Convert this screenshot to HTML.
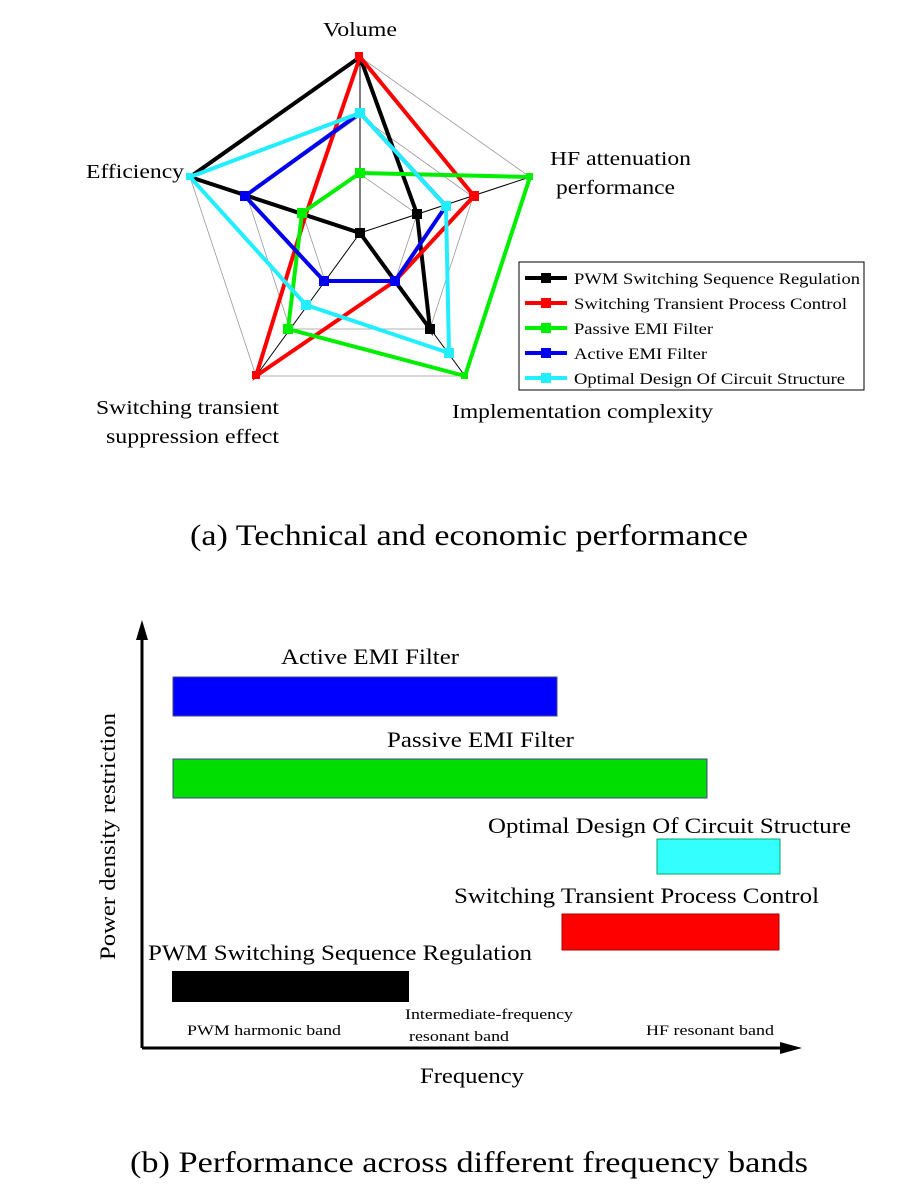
<!DOCTYPE html>
<html><head><meta charset="utf-8"><style>
body{margin:0;background:#fff}
svg{display:block}
text{font-family:"Liberation Serif",serif;fill:#000}
</style></head><body>
<svg width="917" height="1195" viewBox="0 0 917 1195">
<g fill="none" stroke="#999" stroke-width="0.8">
<polygon points="360,57 530,177 465,376 256,376 190,177"/>
<polygon points="360,116 473,197 430,329 290,329 247,196"/>
<polygon points="360,174 417,214 395,281 325,281 303,214"/>
</g>
<g stroke="#000" stroke-width="1">
<line x1="360" y1="233" x2="360" y2="57"/><line x1="360" y1="233" x2="530" y2="177"/>
<line x1="360" y1="233" x2="465" y2="376"/><line x1="360" y1="233" x2="256" y2="376"/>
<line x1="360" y1="233" x2="190" y2="177"/>
</g>
<g fill="none" stroke-width="4" stroke-linejoin="miter">
<polygon stroke="#000" points="360,57 417,214 430,329 360,233 190,177"/>
<polygon stroke="#f00" points="360,57 474,196 395,281 256,376 306,214"/>
<polygon stroke="#0e0" points="360,173 530,177 465,376 288,329 302,213"/>
<polygon stroke="#00e" points="360,113 446,206 395,281 324,281 245,196"/>
<polygon stroke="#2ef" points="360,113 446,206 449,353 306,305 190,177"/>
</g>
<g>
<rect x="355" y="228" width="10" height="10" fill="#000"/><rect x="412" y="209" width="10" height="10" fill="#000"/><rect x="425" y="324" width="10" height="10" fill="#000"/>
<rect x="469" y="191" width="10" height="10" fill="#f00"/><rect x="355" y="52" width="8" height="8" fill="#f00"/><rect x="252" y="371" width="8" height="8" fill="#f00"/>
<rect x="355" y="168" width="10" height="10" fill="#0e0"/><rect x="297" y="208" width="10" height="10" fill="#0e0"/><rect x="283" y="324" width="10" height="10" fill="#0e0"/><rect x="526" y="173" width="7" height="7" fill="#0e0"/><rect x="461" y="372" width="7" height="7" fill="#0e0"/>
<rect x="240" y="191" width="10" height="10" fill="#00e"/><rect x="319" y="276" width="10" height="10" fill="#00e"/><rect x="390" y="276" width="10" height="10" fill="#00e"/>
<rect x="355" y="108" width="10" height="10" fill="#2ef"/><rect x="441" y="201" width="10" height="10" fill="#2ef"/><rect x="444" y="348" width="10" height="10" fill="#2ef"/><rect x="301" y="300" width="10" height="10" fill="#2ef"/><rect x="186" y="173" width="7" height="7" fill="#2ef"/>
</g>
<g font-size="20" lengthAdjust="spacingAndGlyphs">
<text x="323" y="36" textLength="74" lengthAdjust="spacingAndGlyphs">Volume</text>
<text x="86" y="178" textLength="98" lengthAdjust="spacingAndGlyphs">Efficiency</text>
<text x="550" y="165" textLength="141" lengthAdjust="spacingAndGlyphs">HF attenuation</text>
<text x="556" y="194" textLength="119" lengthAdjust="spacingAndGlyphs">performance</text>
<text x="96" y="414" textLength="183" lengthAdjust="spacingAndGlyphs">Switching transient</text>
<text x="106" y="443" textLength="173" lengthAdjust="spacingAndGlyphs">suppression effect</text>
<text x="452" y="418" textLength="261" lengthAdjust="spacingAndGlyphs">Implementation complexity</text>
<text x="190" y="545" font-size="30" textLength="558" lengthAdjust="spacingAndGlyphs">(a) Technical and economic performance</text>
</g>
<rect x="519" y="262" width="345" height="128" fill="#fff" stroke="#000" stroke-width="1"/>
<g stroke-width="4" font-size="16">
<line x1="525" y1="278" x2="567" y2="278" stroke="#000"/><rect x="541" y="273" width="10" height="10" fill="#000"/>
<line x1="525" y1="303" x2="567" y2="303" stroke="#f00"/><rect x="541" y="298" width="10" height="10" fill="#f00"/>
<line x1="525" y1="328" x2="567" y2="328" stroke="#0e0"/><rect x="541" y="323" width="10" height="10" fill="#0e0"/>
<line x1="525" y1="353" x2="567" y2="353" stroke="#00e"/><rect x="541" y="348" width="10" height="10" fill="#00e"/>
<line x1="525" y1="378" x2="567" y2="378" stroke="#2ef"/><rect x="541" y="373" width="10" height="10" fill="#2ef"/>
<text x="574" y="284" stroke="none" textLength="286" lengthAdjust="spacingAndGlyphs">PWM Switching Sequence Regulation</text>
<text x="574" y="309" stroke="none" textLength="273" lengthAdjust="spacingAndGlyphs">Switching Transient Process Control</text>
<text x="574" y="334" stroke="none" textLength="139" lengthAdjust="spacingAndGlyphs">Passive EMI Filter</text>
<text x="574" y="359" stroke="none" textLength="133" lengthAdjust="spacingAndGlyphs">Active EMI Filter</text>
<text x="574" y="384" stroke="none" textLength="271" lengthAdjust="spacingAndGlyphs">Optimal Design Of Circuit Structure</text>
</g>
<line x1="142" y1="1048" x2="142" y2="635" stroke="#000" stroke-width="3"/>
<polygon points="142,620 136,640 148,640" fill="#000"/>
<line x1="142" y1="1048" x2="785" y2="1048" stroke="#000" stroke-width="3"/>
<polygon points="802,1048 780,1042 780,1054" fill="#000"/>
<rect x="173" y="677" width="384" height="39" fill="#0000ff" stroke="#448" stroke-width="1"/>
<rect x="173" y="759" width="534" height="39" fill="#00dd00" stroke="#448" stroke-width="1"/>
<rect x="657" y="839" width="123" height="35" fill="#33ffff" stroke="#0a6" stroke-width="1"/>
<rect x="562" y="914" width="217" height="36" fill="#ff0000" stroke="#a00" stroke-width="1"/>
<rect x="172" y="971" width="237" height="31" fill="#000"/>
<g font-size="22">
<text x="281" y="664" textLength="178" lengthAdjust="spacingAndGlyphs">Active EMI Filter</text>
<text x="387" y="747" textLength="187" lengthAdjust="spacingAndGlyphs">Passive EMI Filter</text>
<text x="488" y="833" textLength="363" lengthAdjust="spacingAndGlyphs">Optimal Design Of Circuit Structure</text>
<text x="454" y="903" textLength="365" lengthAdjust="spacingAndGlyphs">Switching Transient Process Control</text>
<text x="148" y="960" textLength="384" lengthAdjust="spacingAndGlyphs">PWM Switching Sequence Regulation</text>
<text x="420" y="1083" textLength="104" lengthAdjust="spacingAndGlyphs">Frequency</text>
<text transform="translate(115,960) rotate(-90)" textLength="247" lengthAdjust="spacingAndGlyphs">Power density restriction</text>
<text x="130" y="1172" font-size="30" textLength="678" lengthAdjust="spacingAndGlyphs">(b) Performance across different frequency bands</text>
</g>
<g font-size="15">
<text x="187" y="1035" textLength="154" lengthAdjust="spacingAndGlyphs">PWM harmonic band</text>
<text x="405" y="1019" textLength="168" lengthAdjust="spacingAndGlyphs">Intermediate-frequency</text>
<text x="409" y="1041" textLength="100" lengthAdjust="spacingAndGlyphs">resonant band</text>
<text x="646" y="1035" textLength="128" lengthAdjust="spacingAndGlyphs">HF resonant band</text>
</g>
</svg>
</body></html>
